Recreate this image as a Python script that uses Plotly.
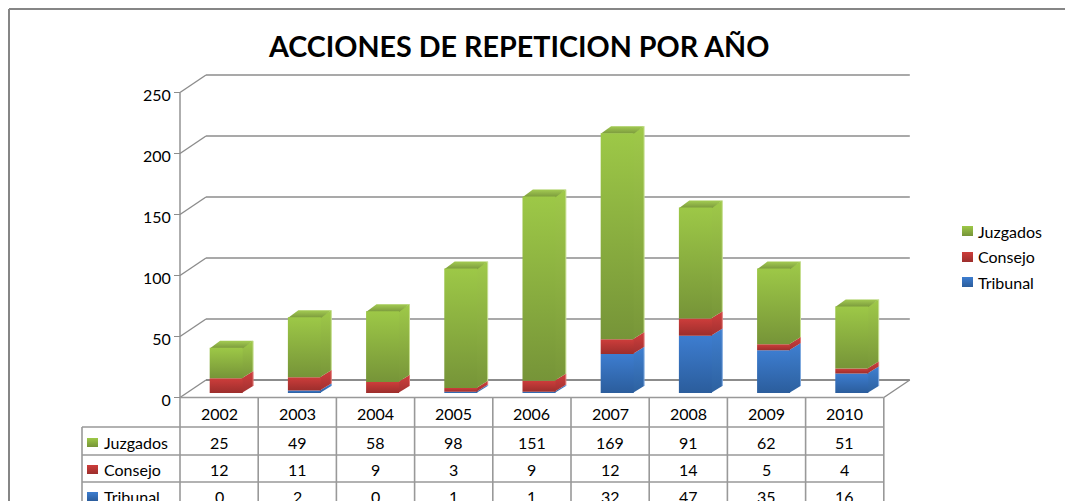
import plotly.graph_objects as go

years = ["2002", "2003", "2004", "2005", "2006", "2007", "2008", "2009", "2010"]
juzgados = [25, 49, 58, 98, 151, 169, 91, 62, 51]
consejo = [12, 11, 9, 3, 9, 12, 14, 5, 4]
tribunal = [0, 2, 0, 1, 1, 32, 47, 35, 16]
y_ticks = [0, 50, 100, 150, 200, 250]
title_text = "ACCIONES DE REPETICION POR AÑO"

FONT = "Lato"
W, H = 1065, 501
X0, Y0 = 180.0, 397.5       # front origin of the axes, px
CAT_PX, VAL_PX = 78.2, 1.22  # px per category, px per unit
DEPTH_X, DEPTH_Y = 26.0, 17.5
GRID = "#8c8c8c"

def xd(px):
    return (px - X0) / CAT_PX

def yd(py):
    return (Y0 - py) / VAL_PX

def proj(cat, val, depth):
    return cat + depth * DEPTH_X / CAT_PX, val + depth * DEPTH_Y / VAL_PX

series = [
    ("Tribunal", tribunal, ("#3d7dd0", "#2b5d9c"), ("#3f7fd0", "#2d619f"), None),
    ("Consejo", consejo, ("#cd3d3b", "#9c2e2c"), ("#cf3f3d", "#a23030"), None),
    ("Juzgados", juzgados, ("#9dc847", "#769438"), ("#9fc949", "#789639"), ("#a3cb52", "#7a983c")),
]
edge_cols = {"Tribunal": "#7fa9de", "Consejo": "#df7d7b", "Juzgados": "#c6de90"}

fig = go.Figure()

shapes = []
def seg(x1, y1, x2, y2, w=1.4, color=GRID):
    shapes.append(dict(type="line", xref="x", yref="y", x0=x1, y0=y1, x1=x2, y1=y2,
                       line=dict(color=color, width=w), layer="below"))

n = len(years)
for t in y_ticks:
    bx0, by = proj(0, t, 1)
    bx1, _ = proj(n, t, 1)
    seg(0, t, bx0, by)
    seg(bx0, by, bx1, by, 2 if t == 0 else 1.4)
seg(0, 0, 0, y_ticks[-1])
seg(n, 0, *proj(n, 0, 1))

# table grid
row_px = [Y0, 427, 455, 482, 510]
left_px = 82
for r, py in enumerate(row_px):
    seg(xd(left_px) if r > 0 else 0, yd(py), n, yd(py), 1.6, "#999999")
for k in range(n + 1):
    seg(k, yd(row_px[0]), k, yd(row_px[-1]), 1.6, "#999999")
seg(xd(left_px), yd(row_px[1]), xd(left_px), yd(row_px[-1]), 1.6, "#999999")

# chart frame
seg(xd(9), yd(9), xd(W + 5), yd(9), 2, "#868686")
seg(xd(9), yd(9), xd(9), yd(H + 5), 2, "#868686")

def poly(xs, ys, colors):
    fig.add_trace(go.Scatter(
        x=xs + xs[:1], y=ys + ys[:1], mode="lines", fill="toself", line=dict(width=0),
        fillgradient=dict(type="vertical", colorscale=[[0, colors[1]], [1, colors[0]]]),
        hoverinfo="skip", showlegend=False))

BAR_L, BAR_W = 23 / CAT_PX, 33 / CAT_PX
D0, D1 = 4.5 / DEPTH_Y, 11.5 / DEPTH_Y
SEAM = 1 / CAT_PX

edges = {s[0]: ([], []) for s in series}
for k in range(n):
    base = 0
    for name, vals, front, side, cap in series:
        v = vals[k]
        if v > 0:
            l, r = k + BAR_L, k + BAR_L + BAR_W
            a0 = proj(l, base, D0)
            b0 = proj(r, base, D0)
            a1 = proj(l, base + v, D0)
            b1 = proj(r, base + v, D0)
            c0 = proj(r, base, D1)
            c1 = proj(r, base + v, D1)
            d1 = proj(l, base + v, D1)
            # side face, tucked slightly under the front face
            poly([b0[0] - SEAM, c0[0], c1[0], b1[0] - SEAM], [b0[1], c0[1], c1[1], b1[1]], side)
            if cap:
                poly([a1[0], b1[0], c1[0], d1[0]],
                     [a1[1] - 0.6, b1[1] - 0.6, c1[1], d1[1]], cap)
            # front face
            poly([a0[0], b0[0], b1[0], a1[0]], [a0[1], b0[1], b1[1], a1[1]], front)
            ex, ey = edges[name]
            ex += [c0[0], c1[0], None]
            ey += [c0[1], c1[1], None]
        base += v

for name, (ex, ey) in edges.items():
    fig.add_trace(go.Scatter(x=ex, y=ey, mode="lines", line=dict(color=edge_cols[name], width=1),
                             hoverinfo="skip", showlegend=False))

table_rows = list(reversed(series))

# real legend carries the names; its swatches are drawn at the reference position below
for name, vals, front, side, cap in table_rows:
    fig.add_trace(go.Scatter(
        x=[None], y=[None], mode="markers", name=name, legendgroup=name,
        marker=dict(symbol="square", size=10, color="rgba(0,0,0,0)", line=dict(width=0))))

annotations = []
def label(px, py, text, size=16, anchor="center", family=FONT):
    annotations.append(dict(x=xd(px), y=yd(py), xref="x", yref="y", text=text, showarrow=False,
                            xanchor=anchor, yanchor="middle",
                            font=dict(family=family, size=size, color="#000000"),
                            align="center"))

for k, yr in enumerate(years):
    label(X0 + (k + 0.5) * CAT_PX, 413, yr)

row_text_px = [442, 469.5, 496.5]
key_top_px = [438, 465, 492]
legend_key_px = [226, 252, 277]
for (name, vals, front, side, cap), py, kt, lt in zip(table_rows, row_text_px, key_top_px, legend_key_px):
    label(102, py, name, anchor="left")
    for k, v in enumerate(vals):
        label(X0 + (k + 0.5) * CAT_PX, py, str(v))
    kx0, kx1, ky0, ky1 = xd(87), xd(98), yd(kt + 9), yd(kt)
    poly([kx0, kx1, kx1, kx0], [ky0, ky0, ky1, ky1], front)
    kx0, kx1, ky0, ky1 = xd(962), xd(973), yd(lt + 10), yd(lt)
    poly([kx0, kx1, kx1, kx0], [ky0, ky0, ky1, ky1], front)

label(518.5, 46, "<b>" + title_text + "</b>", size=28.7)
label(173, -5, "<i>p</i>", size=15, family="Liberation Serif")

fig.update_layout(
    width=W, height=H, margin=dict(l=0, r=0, t=0, b=0), autosize=False,
    paper_bgcolor="white", plot_bgcolor="white",
    font=dict(family=FONT, size=16, color="#000000"),
    shapes=shapes, annotations=annotations,
    xaxis=dict(range=[xd(0), xd(W)], visible=False, fixedrange=True),
    yaxis=dict(range=[yd(H), yd(0)], anchor="free", position=X0 / W, showgrid=False, zeroline=False,
               showline=False, tickmode="array", tickvals=y_ticks, ticks="outside", ticklen=6,
               tickcolor=GRID, tickwidth=1.4, tickfont=dict(family=FONT, size=16, color="#000000"),
               ticklabelshift=3, fixedrange=True),
    legend=dict(x=938 / W, y=1 - 215 / H, xanchor="left", yanchor="top", tracegroupgap=1.5,
                font=dict(family=FONT, size=16), bgcolor="rgba(0,0,0,0)", itemwidth=30),
)

fig.write_html("out.html", config=dict(displayModeBar=False),
               post_script="document.body.style.margin='0';document.body.style.overflow='hidden';")
